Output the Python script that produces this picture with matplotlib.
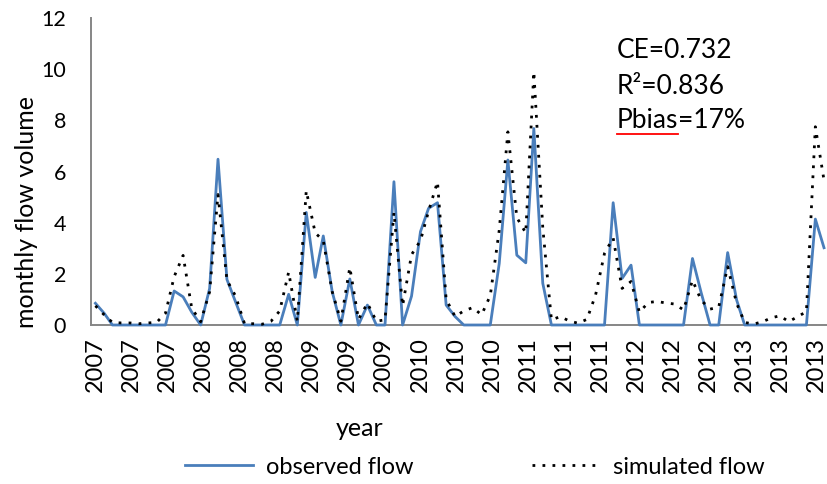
import matplotlib
matplotlib.use("Agg")
import matplotlib.pyplot as plt
from matplotlib.lines import Line2D
import pandas as pd

# ---------------- data ----------------
tick_labels = ["2007", "2007", "2007", "2008", "2008", "2008", "2009", "2009", "2009",
               "2010", "2010", "2010", "2011", "2011", "2011", "2012", "2012", "2012",
               "2013", "2013", "2013"]

observed = [0.85, 0.45, 0, 0, 0, 0, 0, 0, 0, 1.33, 1.1, 0.5, 0, 1.43, 6.48, 1.78,
            0.9, 0, 0, 0, 0, 0, 1.2, 0, 4.4, 1.86, 3.48, 1.3, 0, 1.8, 0, 0.78,
            0, 0, 5.6, 0, 1.13, 3.65, 4.56, 4.78, 0.78, 0.33, 0, 0, 0, 0, 2.4, 6.45,
            2.73, 2.43, 7.68, 1.63, 0, 0, 0, 0, 0, 0, 0, 4.78, 1.82, 2.34, 0, 0,
            0, 0, 0, 0, 2.6, 1.27, 0, 0, 2.83, 0.98, 0, 0, 0, 0, 0, 0,
            0, 0, 4.14, 3.02]

simulated = [0.75, 0.39, 0.1, 0.08, 0.08, 0.05, 0.08, 0.1, 0.46, 1.89, 2.72, 0.65,
             0.13, 1.3, 5.1, 1.75, 1.13, 0.05, 0.05, 0.03, 0.15, 0.55, 2.07, 0.15,
             5.25, 3.6, 3.3, 1.3, 0.15, 2.25, 0.22, 0.85, 0.15, 0.2, 4.4, 0.75,
             2.75, 3.3, 4.45, 5.6, 1.0, 0.33, 0.55, 0.68, 0.4, 1.15, 3.7, 7.55,
             4.2, 3.6, 9.9, 3.8, 0.2, 0.33, 0.16, 0.07, 0.22, 1.17, 2.8, 3.4,
             1.43, 1.7, 0.5, 0.88, 0.92, 0.86, 0.82, 0.59, 1.75, 0.97, 0.62, 0.7,
             2.28, 0.85, 0.1, 0.04, 0.12, 0.28, 0.36, 0.13, 0.33, 0.52, 7.75, 5.66]

start_date = "2007-01-01"
label_step_days = 125          # date-axis major unit
y_ticks = [0, 2, 4, 6, 8, 10, 12]
stats_lines = ["CE=0.732", "R\u00b2=0.836", "Pbias", "=17%"]

# ---------------- positions on a date axis (days since start) ----------------
t0 = pd.Timestamp(start_date)
dates = pd.date_range(start_date, periods=len(observed), freq="MS")
xs = [(d - t0).days for d in dates]
tick_dates = pd.date_range(start_date, periods=len(tick_labels),
                           freq=f"{label_step_days}D")
tick_pos = [(d - t0).days for d in tick_dates]

# ---------------- figure ----------------
W, H = 827, 484
plt.rcParams['font.family'] = ['Lato', 'DejaVu Sans']
fig = plt.figure(figsize=(W / 100, H / 100), dpi=100)


def fx(px):
    return px / W


def fy(py):
    return 1 - py / H


ax = fig.add_axes([fx(91), fy(325), (827 - 91) / W, (325 - 18) / H])
ax.plot(xs, observed, color='#4A7EBB', lw=2.0, zorder=3, clip_on=False,
        label='observed flow')
ax.plot(xs, simulated, color='black', lw=2.0, linestyle=(0, (1, 2.6)), zorder=4,
        clip_on=False, label='simulated flow')

px_per_day = 8.78 / 30.44
ax.set_xlim(-15.3, -15.3 + 736 / px_per_day)
ax.set_ylim(0, 12)
for s in ['top', 'right']:
    ax.spines[s].set_visible(False)
for s in ['left', 'bottom']:
    ax.spines[s].set_color('#868686')
    ax.spines[s].set_linewidth(1.4)

ax.set_yticks(y_ticks)
ax.set_yticklabels([str(v) for v in y_ticks])
ax.set_xticks(tick_pos)
ax.set_xticklabels(tick_labels, rotation=90)
ax.tick_params(axis='y', length=0, pad=18, labelsize=15.5)
ax.tick_params(axis='x', length=0, pad=9, labelsize=17)

fig.text(fx(27), fy(212), 'monthly flow volume', rotation=90, ha='center',
         va='center', fontsize=18)
fig.text(fx(360), fy(428), 'year', ha='center', va='center', fontsize=18)

handles, labels = ax.get_legend_handles_labels()
fig.legend(handles, labels, loc='center', bbox_to_anchor=(fx(475), fy(467)),
           ncol=2, frameon=False, fontsize=17, handlelength=2.9,
           columnspacing=5.0, handletextpad=0.55)

fs_stats = 19
fig.text(fx(617), fy(50), stats_lines[0], va='center', ha='left', fontsize=fs_stats)
fig.text(fx(617), fy(86), stats_lines[1], va='center', ha='left', fontsize=fs_stats)
tp = fig.text(fx(617), fy(121), stats_lines[2], va='center', ha='left',
              fontsize=fs_stats)
fig.canvas.draw()
bb = tp.get_window_extent()
fig.text(bb.x1 / W, fy(121), stats_lines[3], va='center', ha='left',
         fontsize=fs_stats)
fig.add_artist(Line2D([bb.x0 / W, bb.x1 / W], [fy(134), fy(134)], color='red',
                      lw=1.3, transform=fig.transFigure))

fig.savefig('out.png', dpi=100)
